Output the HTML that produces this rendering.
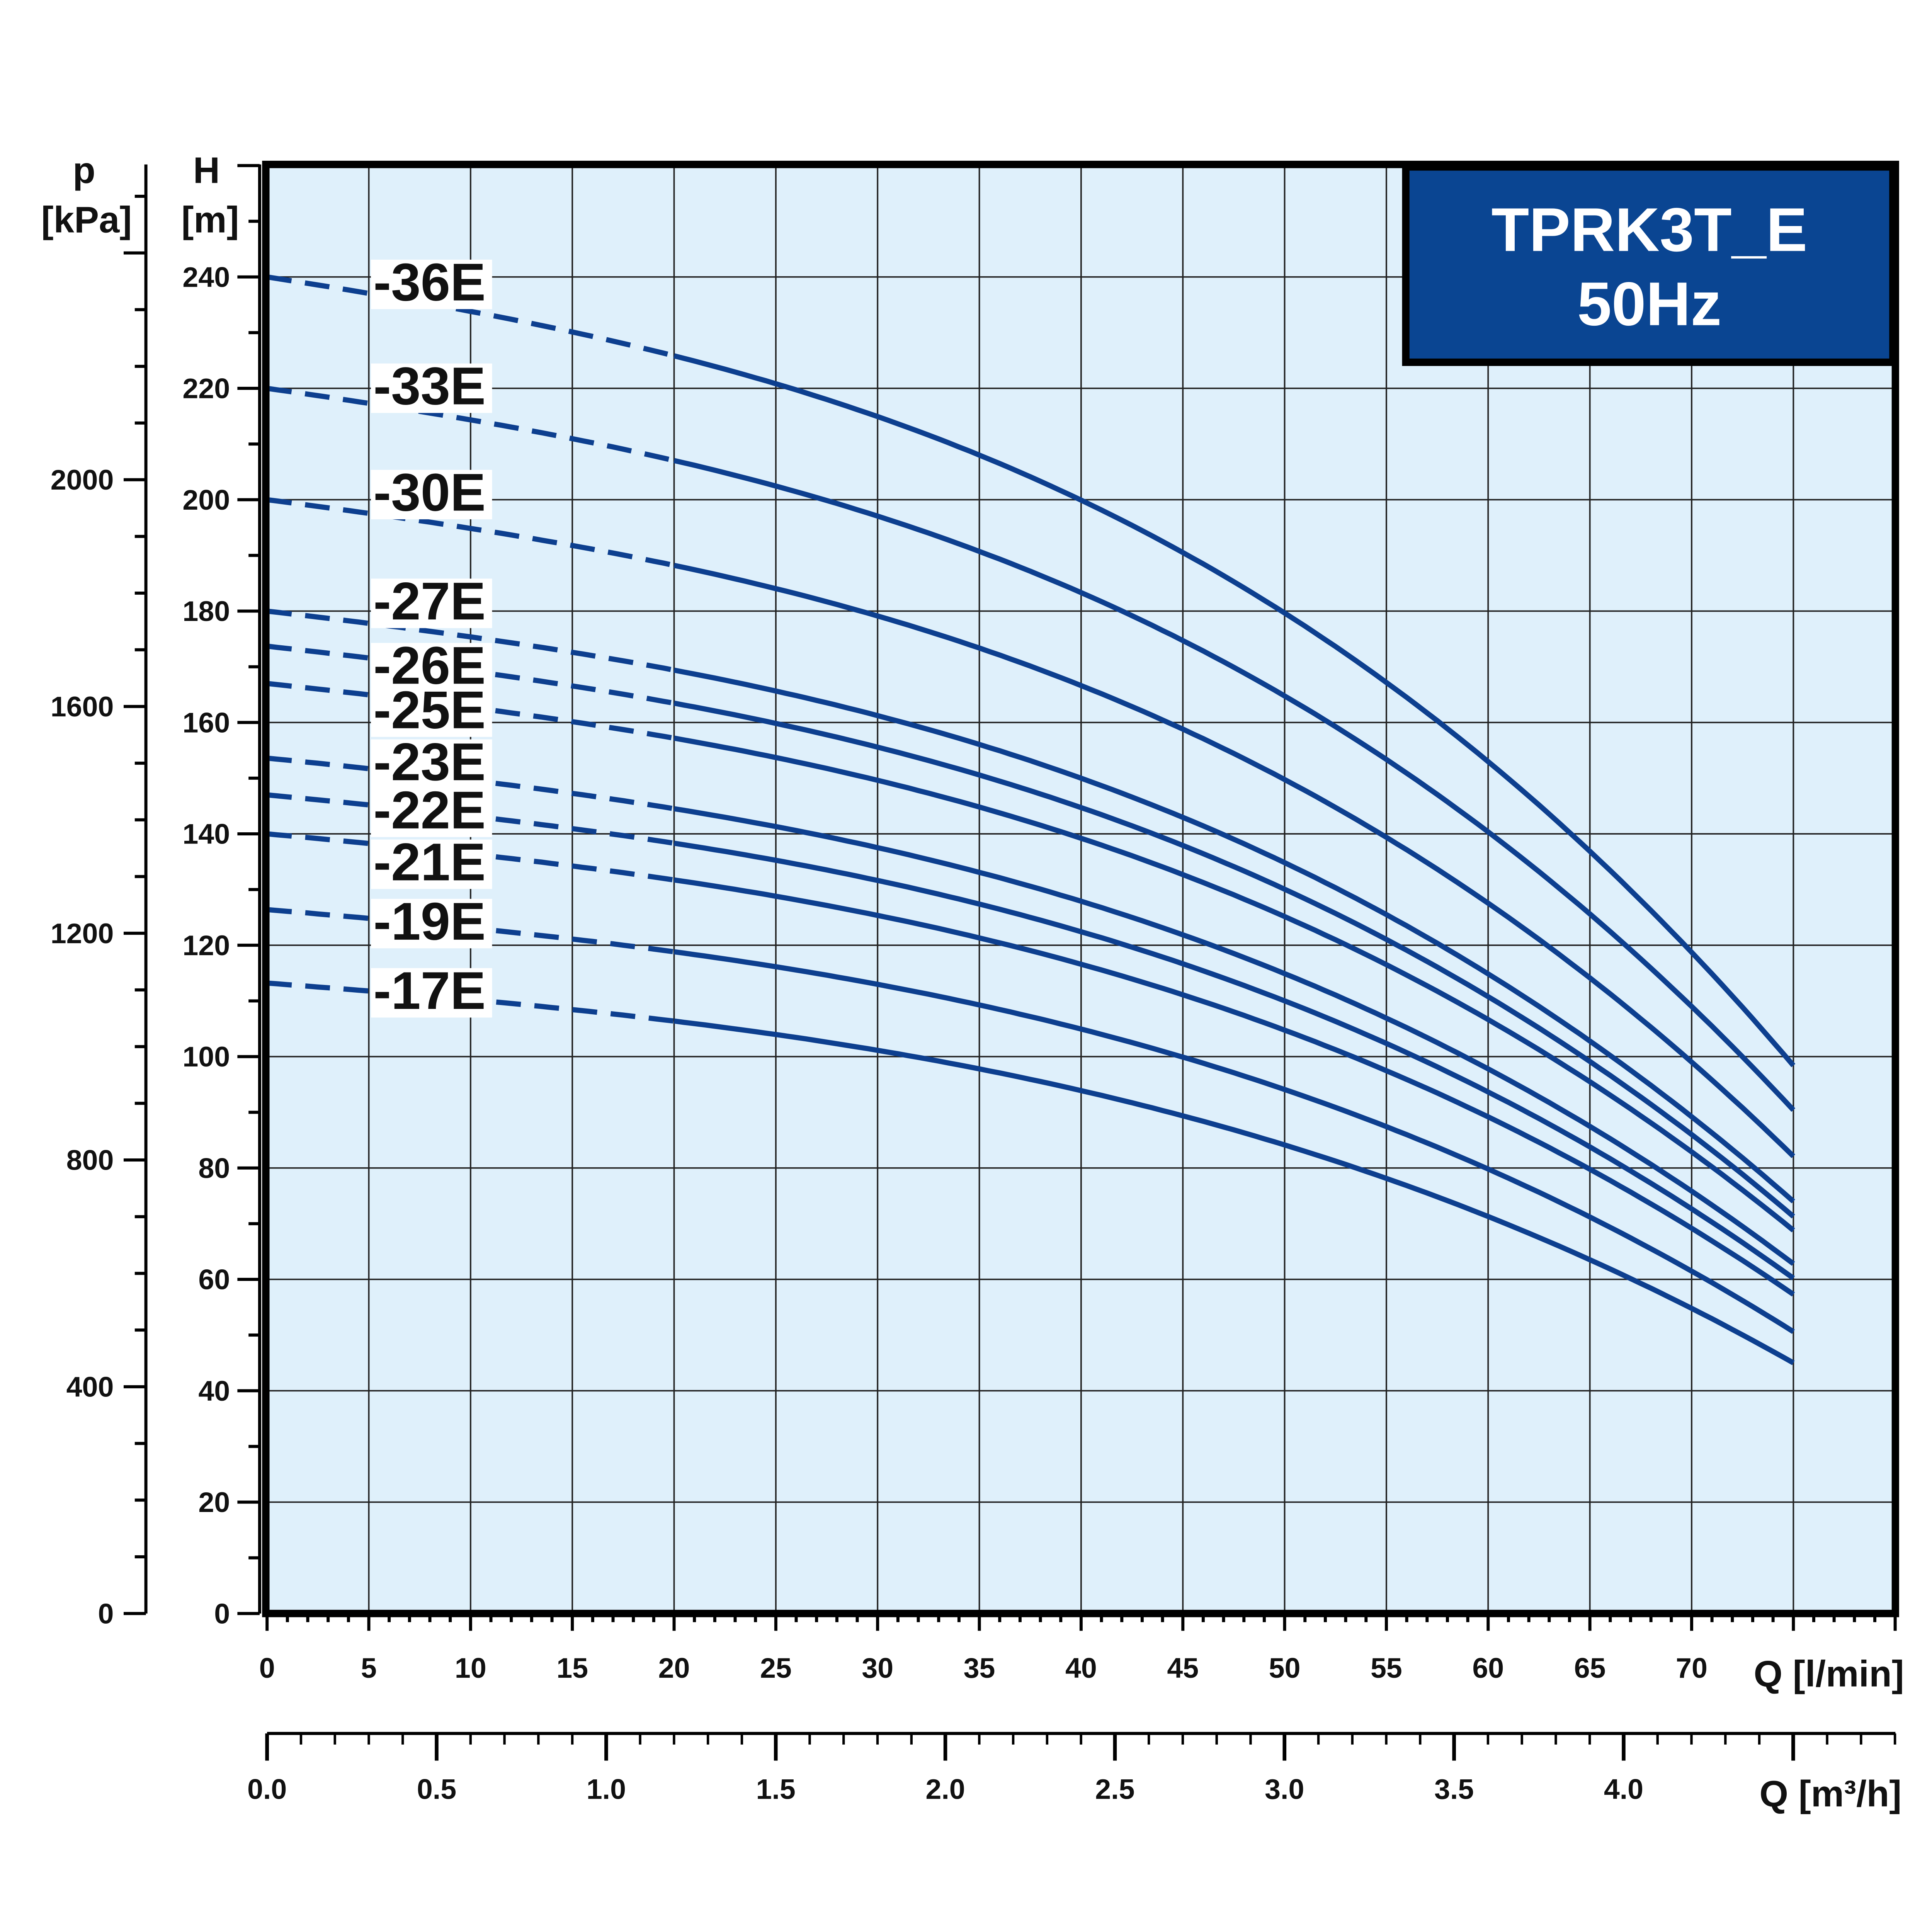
<!DOCTYPE html>
<html><head><meta charset="utf-8">
<style>
html,body{margin:0;padding:0;background:#fff;width:100%;height:100%;overflow:hidden;}
svg{display:block;width:100vw;height:100vh;}
text{font-family:"Liberation Sans",Arial,sans-serif;font-weight:bold;fill:#111;}
</style></head>
<body>
<svg id="s" xmlns="http://www.w3.org/2000/svg" viewBox="0 0 1562.6 1562.6" preserveAspectRatio="none">
<rect x="0" y="0" width="1562.6" height="1562.6" fill="#fff"/>
<rect x="215" y="133" width="1318" height="1172" fill="#dff0fb"/>
<g id="grid" stroke="#222" stroke-width="1.2"></g>
<g id="curves" fill="none" stroke="#0d3f8f" stroke-width="4.2"></g>
<g id="labels"></g>
<rect x="215" y="133" width="1318" height="1172" fill="none" stroke="#000" stroke-width="6"/>
<g id="axes" stroke="#000" stroke-width="2.5"></g>
<g id="ticktext" font-size="23"></g>
<rect x="1137" y="135" width="394" height="158" fill="#0a4592" stroke="#000" stroke-width="6"/>
<text x="1334" y="203" font-size="50" text-anchor="middle" style="fill:#fff">TPRK3T_E</text>
<text x="1334" y="263" font-size="50" text-anchor="middle" style="fill:#fff">50Hz</text>
<text x="68" y="148" font-size="30" text-anchor="middle">p</text>
<text x="70" y="188" font-size="30" text-anchor="middle">[kPa]</text>
<text x="167" y="148" font-size="30" text-anchor="middle">H</text>
<text x="170" y="188" font-size="30" text-anchor="middle">[m]</text>
<text x="1540" y="1364" font-size="30" text-anchor="end">Q [l/min]</text>
<text x="1538" y="1461" font-size="30" text-anchor="end">Q [m³/h]</text>
</svg>
<script>
var NS="http://www.w3.org/2000/svg";
function el(p,n,a,t){var e=document.createElementNS(NS,n);for(var k in a)e.setAttribute(k,a[k]);if(t!==undefined)e.textContent=t;p.appendChild(e);return e;}
var X0=216,XS=82.3/5,Y0=1305,YS=(1305-224)/240;
function X(q){return X0+q*XS;}function Y(h){return Y0-h*YS;}
var grid=document.getElementById('grid'),ax=document.getElementById('axes'),tt=document.getElementById('ticktext');
for(var q=5;q<80;q+=5)el(grid,'line',{x1:X(q),y1:133,x2:X(q),y2:1305});
for(var h=20;h<=250;h+=20)el(grid,'line',{x1:215,y1:Y(h),x2:1533,y2:Y(h)});
for(var q=0;q<=80;q++){var big=q%5==0;el(ax,'line',{x1:X(q),y1:1305,x2:X(q),y2:1305+(big?14:7)});
 if(big&&q<=70)el(tt,'text',{x:X(q),y:1357,'text-anchor':'middle'},String(q));}
el(ax,'line',{x1:216,y1:1402,x2:1533,y2:1402});
var MS=274.3;
for(var i=0;i<=48;i++){var m=i/10,x=216+m*MS;if(x>1533)break;var big=i%5==0;
 el(ax,'line',{x1:x,y1:1402,x2:x,y2:1402+(big?22:9),'stroke-width':big?3:2});
 if(big&&i<=40)el(tt,'text',{x:x,y:1455,'text-anchor':'middle'},m.toFixed(1));}
el(ax,'line',{x1:210,y1:133,x2:210,y2:1305});
for(var h=0;h<=260;h+=10){var big=h%20==0;el(ax,'line',{x1:big?192:201,y1:Y(h),x2:210,y2:Y(h)});
 if(big&&h<=240)el(tt,'text',{x:186,y:Y(h)+8,'text-anchor':'end'},String(h));}
el(ax,'line',{x1:118,y1:133,x2:118,y2:1305});
var PS=183.4/400;
for(var p=0;p<=2500;p+=100){var y=1305-p*PS;if(y<133)break;var big=p%400==0;
 el(ax,'line',{x1:big?100:109,y1:y,x2:118,y2:y});
 if(big&&p<=2000)el(tt,'text',{x:92,y:y+8,'text-anchor':'end'},String(p));}
function g(q){return 0.002368*q+0.00001301*q*q+8.04e-7*q*q*q;}
var G75=g(75);
var H0=[240,220,200,180,173.7,167,153.6,147,140,126.4,113.2];
var E=[98.4,90.4,82.1,74,71.3,68.8,62.8,60.2,57.3,50.6,45];
var cg=document.getElementById('curves');
H0.forEach(function(h0,k){
 var e=E[k]/h0;
 function H(q){return h0*(1-g(q)/G75*(1-e));}
 var d='';for(var q=0;q<=20;q+=0.5)d+=(q==0?'M':'L')+X(q).toFixed(1)+','+Y(H(q)).toFixed(1);
 el(cg,'path',{d:d,'stroke-dasharray':'20,11'});
 d='';for(var q=20;q<=75;q+=0.5)d+=(q==20?'M':'L')+X(q).toFixed(1)+','+Y(H(q)).toFixed(1);
 el(cg,'path',{d:d});
});
var L=[['-36E',243],['-33E',327],['-30E',413],['-27E',501],['-26E',553],['-25E',589],['-23E',631],['-22E',670],['-21E',712],['-19E',760],['-17E',816]];
var lg=document.getElementById('labels');
L.forEach(function(l){el(lg,'rect',{x:300,y:l[1]-33,width:98,height:40,fill:'#fff'});});
L.forEach(function(l){el(lg,'text',{x:302,y:l[1],'font-size':43},l[0]);});
</script>
</body></html>
